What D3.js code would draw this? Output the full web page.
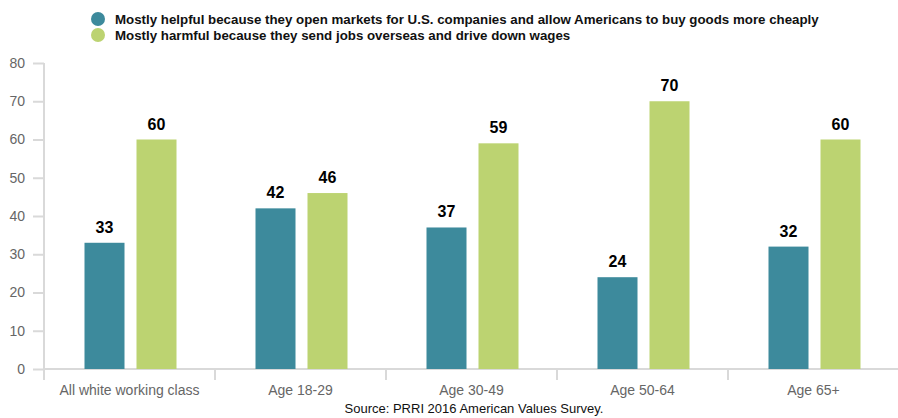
<!DOCTYPE html>
<html>
<head>
<meta charset="utf-8">
<script src="https://cdn.jsdelivr.net/npm/d3@7"></script>
<style>
  body { margin: 0; background: #fff; }
  svg { font-family: Arial, "Liberation Sans", sans-serif; }
  .y-axis text, .x-axis text { fill: #666; font-size: 14px; }
  .y-axis line, .x-axis line, .domain { stroke: #d9d9d9; stroke-width: 2; }
  .val { font-weight: bold; font-size: 16px; fill: #000; text-anchor: middle; }
  .legend-text { font-weight: bold; font-size: 13.3px; fill: #111; }
</style>
</head>
<body>
<div id="chart"></div>
<script>
// data
const categories = ['All white working class', 'Age 18-29', 'Age 30-49', 'Age 50-64', 'Age 65+'];
const seriesNames = [
  'Mostly helpful because they open markets for U.S. companies and allow Americans to buy goods more cheaply',
  'Mostly harmful because they send jobs overseas and drive down wages'
];
const helpful = [33, 42, 37, 24, 32];
const harmful = [60, 46, 59, 70, 60];
const yTicks = [0, 10, 20, 30, 40, 50, 60, 70, 80];
const colors = ['#3d8a9c', '#bcd371'];

const width = 898, height = 418;
const plotLeft = 44, plotRight = 899, plotTop = 63, plotBottom = 369;

const svg = d3.select('#chart').append('svg').attr('width', width).attr('height', height);

const x = d3.scaleBand().domain(categories).range([plotLeft, plotRight]);
const y = d3.scaleLinear().domain([0, 80]).range([plotBottom, plotTop]);
const barW = 40, gap = 12;

// y axis
const axisY = svg.append('g').attr('class', 'y-axis').attr('transform', `translate(${plotLeft},0)`)
  .call(d3.axisLeft(y).tickValues(yTicks).tickSize(11).tickPadding(8).tickSizeOuter(0));
axisY.select('.domain').attr('d', `M0,${plotTop}V${plotBottom + 11}`);

// x axis (tick lines sit on band boundaries)
const axisX = svg.append('g').attr('class', 'x-axis').attr('transform', `translate(0,${plotBottom})`);
axisX.append('line').attr('x1', plotLeft).attr('x2', plotRight).attr('y1', 0).attr('y2', 0);
categories.forEach((c, i) => {
  if (i > 0) axisX.append('line').attr('x1', x(c)).attr('x2', x(c)).attr('y1', 0).attr('y2', 11);
  axisX.append('text').attr('x', x(c) + x.bandwidth() / 2).attr('y', 26)
    .attr('text-anchor', 'middle').text(c);
});

// bars
const series = [helpful, harmful];
series.forEach((vals, s) => {
  const g = svg.append('g');
  vals.forEach((v, i) => {
    const cx = x(categories[i]) + x.bandwidth() / 2;
    const bx = s === 0 ? cx - gap / 2 - barW + 1 : cx + gap / 2 + 1;
    g.append('rect').attr('x', bx).attr('y', y(v)).attr('width', barW)
      .attr('height', plotBottom - y(v)).attr('fill', colors[s]);
    g.append('text').attr('class', 'val').attr('x', bx + barW / 2).attr('y', y(v) - 10).text(v);
  });
});

// legend
const legend = svg.append('g');
seriesNames.forEach((n, i) => {
  legend.append('circle').attr('cx', 98).attr('cy', 19 + i * 16).attr('r', 7).attr('fill', colors[i]);
  legend.append('text').attr('class', 'legend-text').attr('x', 115).attr('y', 24 + i * 16).text(n);
});

// source
svg.append('text').attr('x', 474).attr('y', 413).attr('text-anchor', 'middle')
  .style('font-size', '13px').attr('fill', '#111').text('Source: PRRI 2016 American Values Survey.');
</script>
</body>
</html>
